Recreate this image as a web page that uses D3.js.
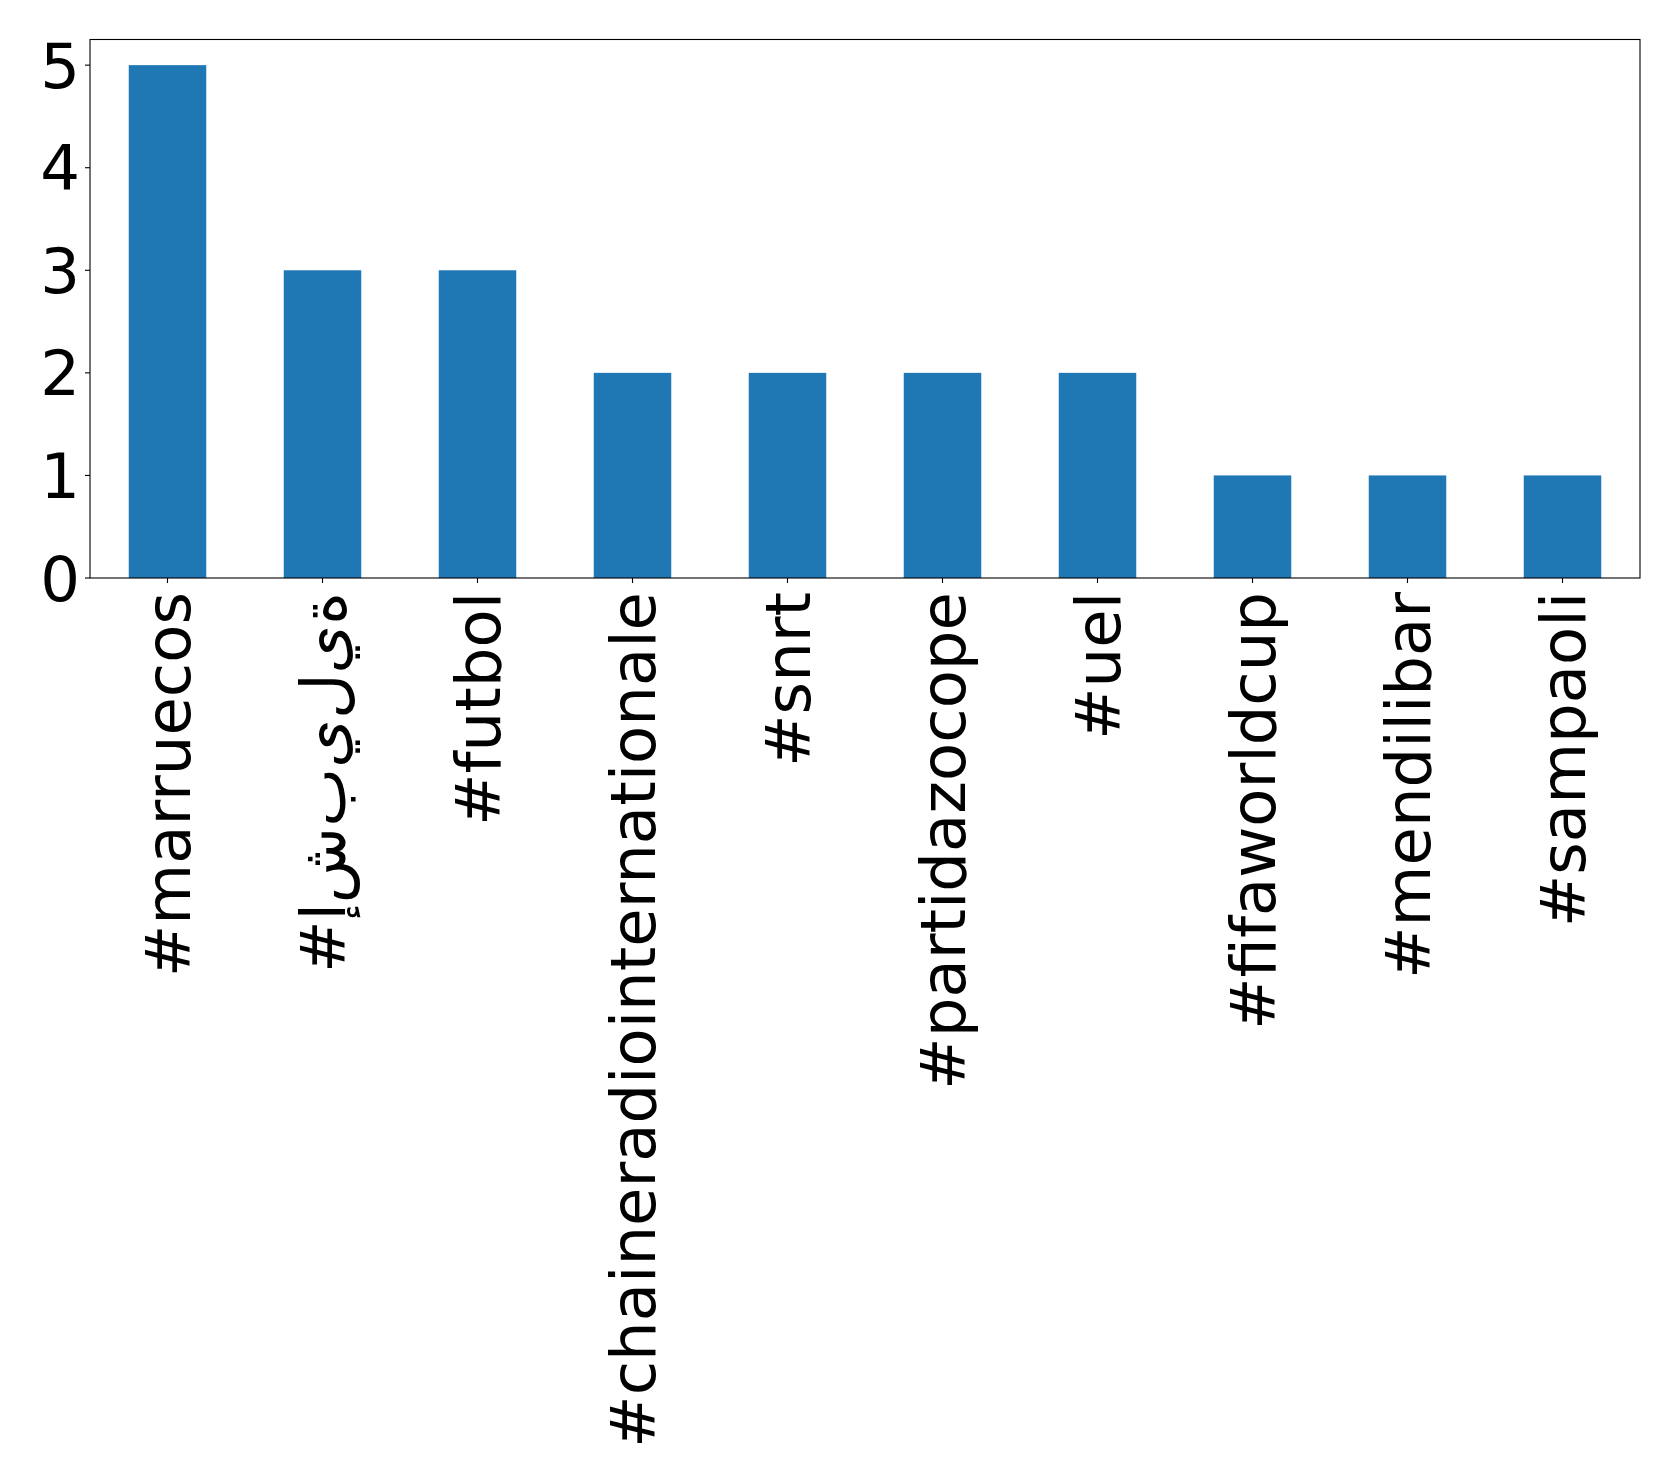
<!DOCTYPE html>
<html><head><meta charset="utf-8">
<script src="https://cdn.jsdelivr.net/npm/d3@7"></script>
<style>body{margin:0;background:#fff}svg{display:block}text{font-family:"DejaVu Sans",sans-serif;fill:#000}</style>
</head><body><svg id="c" width="1679" height="1483"></svg>
<script>
const categories = ["#marruecos","#إ\u200Cش\u200Cب\u200Cي\u200Cل\u200Cي\u200Cة","#futbol","#chaineradiointernationale","#snrt","#partidazocope","#uel","#fifaworldcup","#mendilibar","#sampaoli"];
const values = [5,3,3,2,2,2,2,1,1,1];
const yTicks = [0,1,2,3,4,5];

(function(){
const L=90, R=1640, T=39.5, B=578;
const svg=d3.select("#c");
const x=d3.scaleBand().domain(d3.range(categories.length)).range([L,R]).paddingInner(0.5).paddingOuter(0.25);
const y=d3.scaleLinear().domain([0,5.25]).range([B,T]);

svg.append("g").selectAll("rect").data(values).join("rect")
 .attr("x",(d,i)=>x(i)).attr("width",x.bandwidth())
 .attr("y",d=>y(d)).attr("height",d=>y(0)-y(d)).attr("fill","#1f77b4");

svg.append("rect").attr("x",L).attr("y",T).attr("width",R-L).attr("height",B-T)
 .attr("fill","none").attr("stroke","#000").attr("stroke-width",1.1);

const fs=62.5;
const ya=svg.append("g");
yTicks.forEach(t=>{
  ya.append("line").attr("x1",L-5).attr("x2",L).attr("y1",y(t)).attr("y2",y(t)).attr("stroke","#000").attr("stroke-width",1.1);
  ya.append("text").attr("x",L-10).attr("y",y(t)).attr("dy","0.36em").attr("text-anchor","end").attr("font-size",fs).text(t);
});
const xa=svg.append("g");
categories.forEach((c,i)=>{
  const cx=x(i)+x.bandwidth()/2;
  xa.append("line").attr("x1",cx).attr("x2",cx).attr("y1",B).attr("y2",B+5).attr("stroke","#000").attr("stroke-width",1.1);
  xa.append("text").attr("transform",`translate(${cx},${B+14}) rotate(-90)`)
    .attr("text-anchor","end").attr("dy","0.36em").attr("font-size",fs)
    .style("direction","ltr").style("unicode-bidi","bidi-override").text(c);
});
})();
</script></body></html>
